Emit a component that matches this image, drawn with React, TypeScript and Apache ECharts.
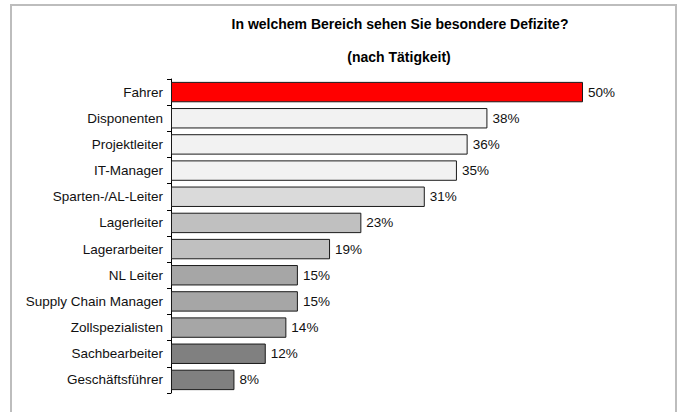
import React, { useEffect, useRef } from "react";
import * as echarts from "echarts";

const categories = [
  "Fahrer",
  "Disponenten",
  "Projektleiter",
  "IT-Manager",
  "Sparten-/AL-Leiter",
  "Lagerleiter",
  "Lagerarbeiter",
  "NL Leiter",
  "Supply Chain Manager",
  "Zollspezialisten",
  "Sachbearbeiter",
  "Geschäftsführer",
];
const values = [50, 38.4, 36, 34.7, 30.8, 23.1, 19.3, 15.4, 15.4, 14, 11.5, 7.7];
const barColors = [
  "#ff0000",
  "#f2f2f2",
  "#f2f2f2",
  "#f2f2f2",
  "#dadada",
  "#c0c0c0",
  "#c0c0c0",
  "#a6a6a6",
  "#a6a6a6",
  "#a6a6a6",
  "#808080",
  "#808080",
];
const title = "In welchem Bereich sehen Sie besondere Defizite?";
const subtitle = "(nach Tätigkeit)";

export default function App() {
  const ref = useRef<HTMLDivElement>(null);
  useEffect(() => {
    document.body.style.margin = "0";
    const chart = echarts.init(ref.current!, null, { renderer: "svg" });
    const font = "'Liberation Sans', Arial, sans-serif";
    chart.setOption({
      animation: false,
      backgroundColor: "#ffffff",
      textStyle: { fontFamily: font },
      graphic: [
        {
          type: "rect",
          shape: { x: 11, y: 5, width: 665, height: 420 },
          style: { fill: "none", stroke: "#bdbdbd", lineWidth: 2 },
          z: 0,
        },
        {
          type: "text",
          x: 400,
          y: 24,
          style: {
            text: title,
            fontFamily: font,
            fontSize: 14,
            fontWeight: "bold",
            fill: "#000",
            align: "center",
            verticalAlign: "middle",
          },
        },
        {
          type: "text",
          x: 399,
          y: 57,
          style: {
            text: subtitle,
            fontFamily: font,
            fontSize: 14,
            fontWeight: "bold",
            fill: "#000",
            align: "center",
            verticalAlign: "middle",
          },
        },
      ],
      grid: { left: 171, right: 95, top: 79, bottom: 19, containLabel: false },
      xAxis: {
        type: "value",
        min: 0,
        max: 50,
        show: false,
      },
      yAxis: {
        type: "category",
        inverse: true,
        data: categories,
        axisLine: { show: true, lineStyle: { color: "#000", width: 1 } },
        axisTick: { show: true, inside: false, length: 4, lineStyle: { color: "#000" } },
        axisLabel: { color: "#111", fontSize: 13.5, fontFamily: font, margin: 8 },
        splitLine: { show: false },
      },
      series: [
        {
          type: "bar",
          data: values.map((v, i) => ({
            value: v,
            itemStyle: { color: barColors[i] },
          })),
          barCategoryGap: "22%",
          itemStyle: { borderColor: "#1a1a1a", borderWidth: 1 },
          label: {
            show: true,
            position: "right",
            distance: 5,
            formatter: (p: any) => Math.round(p.value) + "%",
            color: "#111",
            fontSize: 13.5,
            fontFamily: font,
          },
        },
      ],
    });
    return () => chart.dispose();
  }, []);
  return <div ref={ref} style={{ width: 678, height: 412 }} />;
}
